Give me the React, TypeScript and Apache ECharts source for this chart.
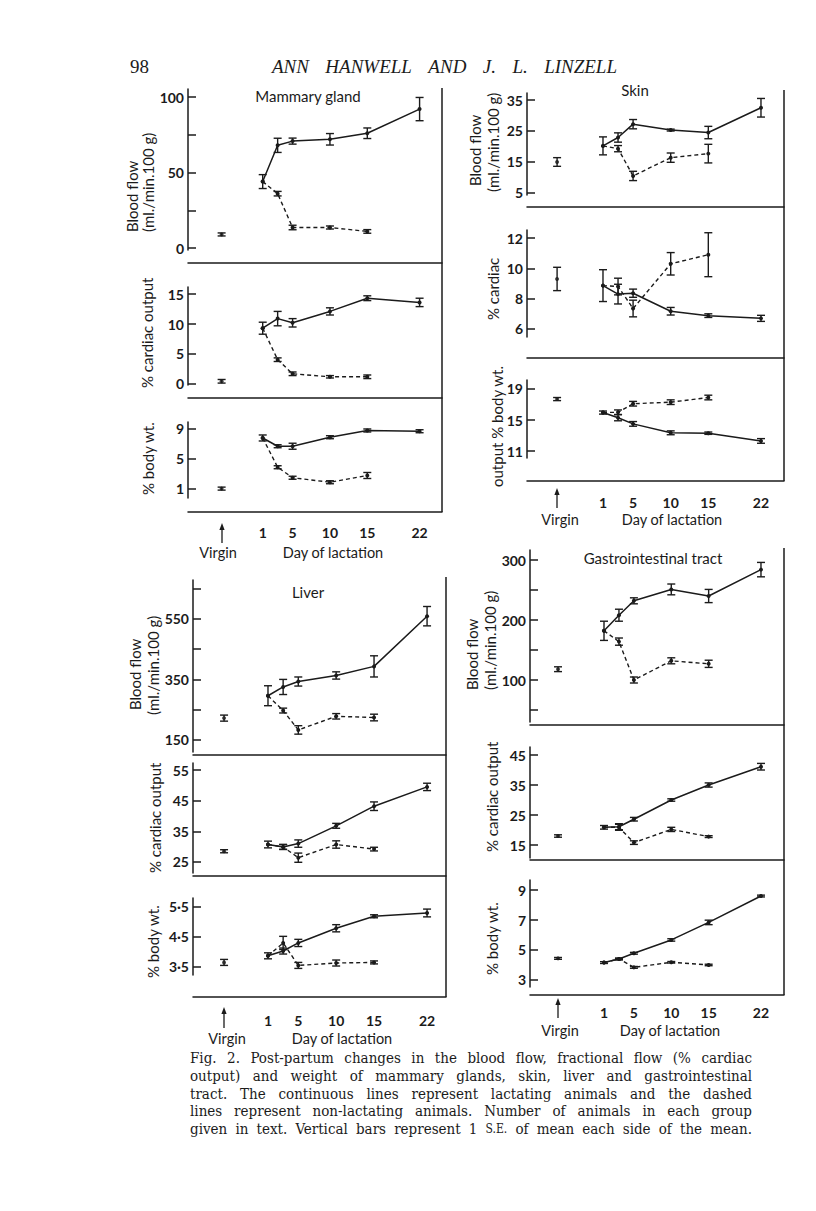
import React, { useEffect, useRef } from "react";
import * as echarts from "echarts";

// ---------------- data ----------------
const lactDays = [1, 3, 5, 10, 15, 22];
const nonLactDays = [1, 3, 5, 10, 15];
const dayTicks = [1, 5, 10, 15, 22];

// Mammary gland
const mammaryFlowLact = [44, 68, 70.8, 72, 76, 92];
const mammaryFlowLactSE = [4.6, 4.7, 2, 3.8, 3.5, 7.7];
const mammaryFlowNon = [44, 36, 13.6, 13.6, 11];
const mammaryFlowNonSE = [4.6, 1.5, 1.5, 1, 1.2];
const mammaryFlowVirgin = [9, 1];
const mammaryCOLact = [9.3, 10.9, 10.2, 12.1, 14.3, 13.6];
const mammaryCOLactSE = [1, 1.2, 0.7, 0.6, 0.4, 0.7];
const mammaryCONon = [9.3, 4.05, 1.7, 1.2, 1.2];
const mammaryCONonSE = [1, 0.3, 0.3, 0.2, 0.3];
const mammaryCOVirgin = [0.45, 0.3];
const mammaryBWLact = [7.8, 6.7, 6.7, 7.9, 8.8, 8.7];
const mammaryBWLactSE = [0.4, 0.2, 0.4, 0.2, 0.2, 0.2];
const mammaryBWNon = [7.8, 3.9, 2.5, 1.9, 2.8];
const mammaryBWNonSE = [0.4, 0.2, 0.2, 0.2, 0.4];
const mammaryBWVirgin = [1.05, 0.2];

// Skin
const skinFlowLact = [20.2, 22.9, 27.2, 25.3, 24.5, 32.5];
const skinFlowLactSE = [2.9, 1.5, 1.5, 0.3, 2, 3];
const skinFlowNon = [20.2, 19.3, 10.5, 16.4, 17.7];
const skinFlowNonSE = [2.9, 1, 1.5, 1.5, 3];
const skinFlowVirgin = [15, 1.4];
const skinCOLact = [8.86, 8.3, 8.36, 7.17, 6.88, 6.7];
const skinCOLactSE = [1.05, 0.65, 0.27, 0.25, 0.12, 0.2];
const skinCONon = [8.86, 8.8, 7.35, 10.3, 10.9];
const skinCONonSE = [1.05, 0.55, 0.55, 0.74, 1.45];
const skinCOVirgin = [9.3, 0.77];
const skinBWLact = [15.96, 15.3, 14.5, 13.35, 13.3, 12.3];
const skinBWLactSE = [0.2, 0.4, 0.3, 0.25, 0.15, 0.3];
const skinBWNon = [15.96, 16, 17.1, 17.3, 17.9];
const skinBWNonSE = [0.2, 0.3, 0.3, 0.3, 0.3];
const skinBWVirgin = [17.7, 0.2];

// Liver
const liverFlowLact = [296, 325, 343, 363, 393, 559];
const liverFlowLactSE = [33, 25, 15, 12, 35, 32];
const liverFlowNon = [296, 247, 183, 228, 224];
const liverFlowNonSE = [33, 8, 14, 9, 11];
const liverFlowVirgin = [222, 10];
const liverCOLact = [30.7, 29.9, 31.0, 36.8, 43.2, 49.5];
const liverCOLactSE = [1.1, 0.8, 1.2, 0.8, 1.4, 1.2];
const liverCONon = [30.7, 29.9, 26.4, 30.7, 29.2];
const liverCONonSE = [1.1, 0.8, 1.5, 1.2, 0.6];
const liverCOVirgin = [28.5, 0.5];
const liverBWLact = [3.87, 4.03, 4.3, 4.79, 5.19, 5.3];
const liverBWLactSE = [0.1, 0.1, 0.12, 0.12, 0.05, 0.13];
const liverBWNon = [3.87, 4.3, 3.55, 3.63, 3.65];
const liverBWNonSE = [0.1, 0.22, 0.1, 0.1, 0.05];
const liverBWVirgin = [3.65, 0.1];

// Gastrointestinal tract
const giFlowLact = [182, 208, 232, 251, 240, 284];
const giFlowLactSE = [16, 10, 5, 9, 11, 12];
const giFlowNon = [182, 164, 100, 132, 127];
const giFlowNonSE = [16, 6, 5, 5, 6];
const giFlowVirgin = [118, 4];
const giCOLact = [20.9, 21.1, 23.6, 30, 35, 41.1];
const giCOLactSE = [0.6, 1, 0.6, 0.4, 0.7, 1.1];
const giCONon = [20.9, 20.9, 15.8, 20.2, 17.8];
const giCONonSE = [0.6, 1, 0.6, 0.7, 0.3];
const giCOVirgin = [18, 0.4];
const giBWLact = [4.16, 4.4, 4.78, 5.67, 6.84, 8.6];
const giBWLactSE = [0.06, 0.05, 0.06, 0.08, 0.15, 0.06];
const giBWNon = [4.16, 4.4, 3.84, 4.18, 4.0];
const giBWNonSE = [0.06, 0.05, 0.06, 0.05, 0.05];
const giBWVirgin = [4.44, 0.06];

// tick values
const mfTicks = [0, 25, 50, 75, 100];
const mfLabels = [0, 50, 100];
const mcTicks = [0, 5, 10, 15];
const mbTicks = [1, 5, 9];
const sfTicks = [5, 15, 25, 35];
const scTicks = [6, 8, 10, 12];
const sbTicks = [11, 15, 19];
const lfTicks = [150, 250, 350, 450, 550, 650];
const lfLabels = [150, 350, 550];
const lcTicks = [25, 35, 45, 55];
const lbTicks = [3.5, 4.5, 5.5];
const gfTicks = [50, 100, 150, 200, 250, 300];
const gfLabels = [100, 200, 300];
const gcTicks = [15, 25, 35, 45];
const gbTicks = [3, 5, 7, 9];

const captionLines = [
  "Fig. 2. Post-partum changes in the blood flow, fractional flow (% cardiac",
  "output) and weight of mammary glands, skin, liver and gastrointestinal",
  "tract. The continuous lines represent lactating animals and the dashed",
  "lines represent non-lactating animals. Number of animals in each group",
  "given in text. Vertical bars represent 1 S.E. of mean each side of the mean.",
];

// ---------------- layout ----------------
const INK = "#1b1b1b";
const SANS = "Lato";
const SERIF = "Liberation Serif";
const CAPTION_FONT = "DejaVu Serif Condensed";

const panels: any = {
  mammary: { left: 188, right: 442, xMin: -9, xMax: 25, virginX: -4.5, top: 88, bottom: 512 },
  skin: { left: 527, right: 784, xMin: -9.1, xMax: 25.06, virginX: -5.1, top: 90, bottom: 481 },
  liver: { left: 193, right: 446, xMin: -8.9, xMax: 24.5, virginX: -4.8, top: 577, bottom: 997 },
  gi: { left: 530, right: 784, xMin: -8.9, xMax: 25.08, virginX: -5.15, top: 548, bottom: 995 },
};

const subplots: any[] = [
  { panel: "mammary", lact: mammaryFlowLact, lactSE: mammaryFlowLactSE, non: mammaryFlowNon, nonSE: mammaryFlowNonSE, virgin: mammaryFlowVirgin, min: -1.3, max: 105.3, ticks: mfTicks, labels: mfLabels, top: 89, bottom: 250, offset: 13 },
  { panel: "mammary", lact: mammaryCOLact, lactSE: mammaryCOLactSE, non: mammaryCONon, nonSE: mammaryCONonSE, virgin: mammaryCOVirgin, min: -0.17, max: 16.17, ticks: mcTicks, labels: mcTicks, top: 287, bottom: 385, offset: 13 },
  { panel: "mammary", lact: mammaryBWLact, lactSE: mammaryBWLactSE, non: mammaryBWNon, nonSE: mammaryBWNonSE, virgin: mammaryBWVirgin, min: -0.2, max: 9.93, ticks: mbTicks, labels: mbTicks, top: 422, bottom: 498, offset: 14, xLabels: 13 },
  { panel: "skin", lact: skinFlowLact, lactSE: skinFlowLactSE, non: skinFlowNon, nonSE: skinFlowNonSE, virgin: skinFlowVirgin, min: 4.35, max: 37.26, ticks: sfTicks, labels: sfTicks, top: 93, bottom: 195, offset: 12 },
  { panel: "skin", lact: skinCOLact, lactSE: skinCOLactSE, non: skinCONon, nonSE: skinCONonSE, virgin: skinCOVirgin, min: 5.47, max: 12.53, ticks: scTicks, labels: scTicks, top: 230, bottom: 337, offset: 21 },
  { panel: "skin", lact: skinBWLact, lactSE: skinBWLactSE, non: skinBWNon, nonSE: skinBWNonSE, virgin: skinBWVirgin, min: 10.1, max: 20.16, ticks: sbTicks, labels: sbTicks, top: 380, bottom: 458, offset: 23, xLabels: 14 },
  { panel: "liver", lact: liverFlowLact, lactSE: liverFlowLactSE, non: liverFlowNon, nonSE: liverFlowNonSE, virgin: liverFlowVirgin, min: 110, max: 678.6, ticks: lfTicks, labels: lfLabels, top: 580, bottom: 752, offset: 3 },
  { panel: "liver", lact: liverCOLact, lactSE: liverCOLactSE, non: liverCONon, nonSE: liverCONonSE, virgin: liverCOVirgin, min: 21.4, max: 57.3, ticks: lcTicks, labels: lcTicks, top: 763, bottom: 873, offset: 3 },
  { panel: "liver", lact: liverBWLact, lactSE: liverBWLactSE, non: liverBWNon, nonSE: liverBWNonSE, virgin: liverBWVirgin, min: 3.23, max: 5.8, ticks: lbTicks, labels: lbTicks, top: 898, bottom: 975, offset: 22, xLabels: 16, dot: true },
  { panel: "gi", lact: giFlowLact, lactSE: giFlowLactSE, non: giFlowNon, nonSE: giFlowNonSE, virgin: giFlowVirgin, min: 30, max: 316.7, ticks: gfTicks, labels: gfLabels, top: 550, bottom: 722, offset: 3 },
  { panel: "gi", lact: giCOLact, lactSE: giCOLactSE, non: giCONon, nonSE: giCONonSE, virgin: giCOVirgin, min: 10.67, max: 47.67, ticks: gcTicks, labels: gcTicks, top: 747, bottom: 858, offset: 2 },
  { panel: "gi", lact: giBWLact, lactSE: giBWLactSE, non: giBWNon, nonSE: giBWNonSE, virgin: giBWVirgin, min: 2.53, max: 9.67, ticks: gbTicks, labels: gbTicks, top: 880, bottom: 987, offset: 8, xLabels: 10 },
];

// y-axis titles: text, x (centre line), y (start, bottom)
const yTitles: any[] = [
  ["Blood flow", 132, 232], ["(ml./min.100 g)", 148, 232],
  ["% cardiac output", 147, 388], ["% body wt.", 148, 495],
  ["Blood flow", 475, 186], ["(ml./min.100 g)", 493, 192],
  ["% cardiac", 493, 320], ["output % body wt.", 497, 487],
  ["Blood flow", 135, 710], ["(ml./min.100 g)", 153, 715],
  ["% cardiac output", 155, 873], ["% body wt.", 153, 978],
  ["Blood flow", 472, 690], ["(ml./min.100 g)", 490, 690],
  ["% cardiac output", 492, 852], ["% body wt.", 492, 975],
];

const panelTitles: any[] = [
  ["Mammary gland", 308, 96], ["Skin", 635, 90], ["Liver", 308, 592], ["Gastrointestinal tract", 653, 558],
];

// bottom annotations: arrow x, arrow top, arrow bottom, label y, virgin label x, day label x
const bottomNotes: any[] = [
  [222, 523, 543, 552, 218, 333],
  [557, 488, 508, 519, 560, 672],
  [224, 1007, 1028, 1038, 227, 342],
  [558, 998, 1018, 1030, 560, 670],
];

function txt(text: string, x: number, y: number, extra: any = {}) {
  const style: any = {
    text, fill: INK, fontSize: 15, fontFamily: SANS,
    align: "center", verticalAlign: "middle", textAlign: "center", textVerticalAlign: "middle",
    ...extra,
  };
  return { type: "text", x, y, silent: true, style };
}

function justified(line: string, x0: number, x1: number, y: number, size: number, family: string, italic = false) {
  const ctx = document.createElement("canvas").getContext("2d") as CanvasRenderingContext2D;
  const words = line.split(" ");
  const sizes = words.map((w) => (w === "S.E." ? size * 0.8 : size));
  const widths = words.map((w, k) => {
    ctx.font = `${italic ? "italic " : ""}${sizes[k]}px "${family}", "Liberation Serif", serif`;
    return ctx.measureText(w).width;
  });
  const total = widths.reduce((a, b) => a + b, 0);
  const gap = words.length > 1 ? (x1 - x0 - total) / (words.length - 1) : 0;
  let x = x0;
  return words.map((w, k) => {
    const el = txt(w, x, y, {
      fontSize: sizes[k], fontFamily: `"${family}", "Liberation Serif", serif`, fontStyle: italic ? "italic" : "normal",
      align: "left", textAlign: "left",
    });
    x += widths[k] + gap;
    return el;
  });
}

function errorBars(i: number, data: number[][]) {
  return {
    type: "custom", xAxisIndex: i, yAxisIndex: i, data, clip: false, silent: true, z: 5,
    encode: { x: 0, y: [1, 2] },
    renderItem: (_p: any, api: any) => {
      const x = api.value(0);
      const a = api.coord([x, api.value(2)]);
      const b = api.coord([x, api.value(1)]);
      const w = 4;
      const style = { stroke: INK, lineWidth: 1.4, fill: "none" };
      return {
        type: "group",
        children: [
          { type: "line", shape: { x1: a[0], y1: a[1], x2: b[0], y2: b[1] }, style },
          { type: "line", shape: { x1: a[0] - w, y1: a[1], x2: a[0] + w, y2: a[1] }, style },
          { type: "line", shape: { x1: b[0] - w, y1: b[1], x2: b[0] + w, y2: b[1] }, style },
        ],
      };
    },
  };
}

function buildOption() {
  const grid: any[] = [];
  const xAxis: any[] = [];
  const yAxis: any[] = [];
  const series: any[] = [];
  subplots.forEach((s, i) => {
    const p = panels[s.panel];
    grid.push({ left: p.left, width: p.right - p.left, top: s.top, height: s.bottom - s.top, containLabel: false, outerBoundsMode: "none" });
    xAxis.push({
      type: "value", gridIndex: i, min: p.xMin, max: p.xMax, offset: s.offset,
      axisLine: { show: true, onZero: false, lineStyle: { color: INK, width: 1.5 } },
      axisTick: { show: false }, splitLine: { show: false },
      axisLabel: s.xLabels
        ? { show: true, customValues: dayTicks, margin: s.xLabels, color: INK, fontFamily: SANS, fontSize: 14, fontWeight: "bold" }
        : { show: false },
    });
    yAxis.push({
      type: "value", gridIndex: i, min: s.min, max: s.max,
      axisLine: { show: true, onZero: false, lineStyle: { color: INK, width: 1.5 } },
      axisTick: { show: true, inside: true, length: 8, customValues: s.ticks, lineStyle: { color: INK, width: 1.5 } },
      splitLine: { show: false },
      axisLabel: {
        show: true, customValues: s.labels, margin: 4, color: INK, fontFamily: SANS, fontSize: 14, fontWeight: "bold",
        formatter: (v: number) => (s.dot ? String(v).replace(".", "·") : String(v)),
      },
    });
    const lactData = lactDays.map((d, k) => [d, s.lact[k]]);
    const nonData = nonLactDays.map((d, k) => [d, s.non[k]]);
    series.push({
      type: "line", xAxisIndex: i, yAxisIndex: i, data: lactData, symbol: "circle", symbolSize: 4,
      lineStyle: { color: INK, width: 1.5 }, itemStyle: { color: INK }, silent: true, z: 3,
    });
    series.push({
      type: "line", xAxisIndex: i, yAxisIndex: i, data: nonData, symbol: "circle", symbolSize: 4,
      lineStyle: { color: INK, width: 1.4, type: [4, 3] }, itemStyle: { color: INK }, silent: true, z: 3,
    });
    series.push({
      type: "scatter", xAxisIndex: i, yAxisIndex: i, data: [[p.virginX, s.virgin[0]]], symbol: "circle", symbolSize: 4,
      itemStyle: { color: INK }, silent: true, z: 4,
    });
    const bars: number[][] = [];
    lactDays.forEach((d, k) => bars.push([d, s.lact[k] - s.lactSE[k], s.lact[k] + s.lactSE[k]]));
    nonLactDays.forEach((d, k) => { if (k > 0) bars.push([d, s.non[k] - s.nonSE[k], s.non[k] + s.nonSE[k]]); });
    bars.push([p.virginX, s.virgin[0] - s.virgin[1], s.virgin[0] + s.virgin[1]]);
    series.push(errorBars(i, bars));
  });

  const graphic: any[] = [];
  // right-hand frame lines
  Object.keys(panels).forEach((k) => {
    const p = panels[k];
    graphic.push({ type: "line", silent: true, shape: { x1: p.right, y1: p.top, x2: p.right, y2: p.bottom }, style: { stroke: INK, lineWidth: 1.5 } });
  });
  panelTitles.forEach(([t, x, y]) => graphic.push(txt(t, x, y, { fontSize: 15 })));
  yTitles.forEach(([t, x, y]) => graphic.push({ ...txt(t, 0, 0, { fontSize: 15, align: "left", textAlign: "left" }), x, y, rotation: Math.PI / 2 }));
  bottomNotes.forEach(([ax, at, ab, ly, vx, dx]) => {
    graphic.push({ type: "line", silent: true, shape: { x1: ax, y1: at + 5, x2: ax, y2: ab }, style: { stroke: INK, lineWidth: 1.3 } });
    graphic.push({ type: "polygon", silent: true, shape: { points: [[ax, at], [ax - 2.6, at + 7], [ax + 2.6, at + 7]] }, style: { fill: INK } });
    graphic.push(txt("Virgin", vx, ly, { fontSize: 14.5 }));
    graphic.push(txt("Day of lactation", dx, ly, { fontSize: 14.5 }));
  });
  // header
  graphic.push(txt("98", 130, 66, { fontSize: 19, fontFamily: SERIF, align: "left", textAlign: "left" }));
  graphic.push(...justified("ANN HANWELL AND J. L. LINZELL", 272, 617, 66, 19, SERIF, true));
  // caption
  const capY = [1058, 1076, 1093.5, 1111, 1129];
  captionLines.forEach((line, k) => graphic.push(...justified(line, 190, 752, capY[k], 15, CAPTION_FONT)));

  return {
    animation: false,
    backgroundColor: "#ffffff",
    textStyle: { fontFamily: SANS },
    grid, xAxis, yAxis, series, graphic,
  };
}

export default function App() {
  const ref = useRef<HTMLDivElement>(null);
  useEffect(() => {
    if (!ref.current) return;
    const chart = echarts.init(ref.current, null, { renderer: "svg", width: 816, height: 1211 });
    chart.setOption(buildOption() as any);
    return () => chart.dispose();
  }, []);
  return (
    <div
      ref={ref}
      style={{ position: "absolute", left: 0, top: 0, width: 816, height: 1211, background: "#fff" }}
    />
  );
}
